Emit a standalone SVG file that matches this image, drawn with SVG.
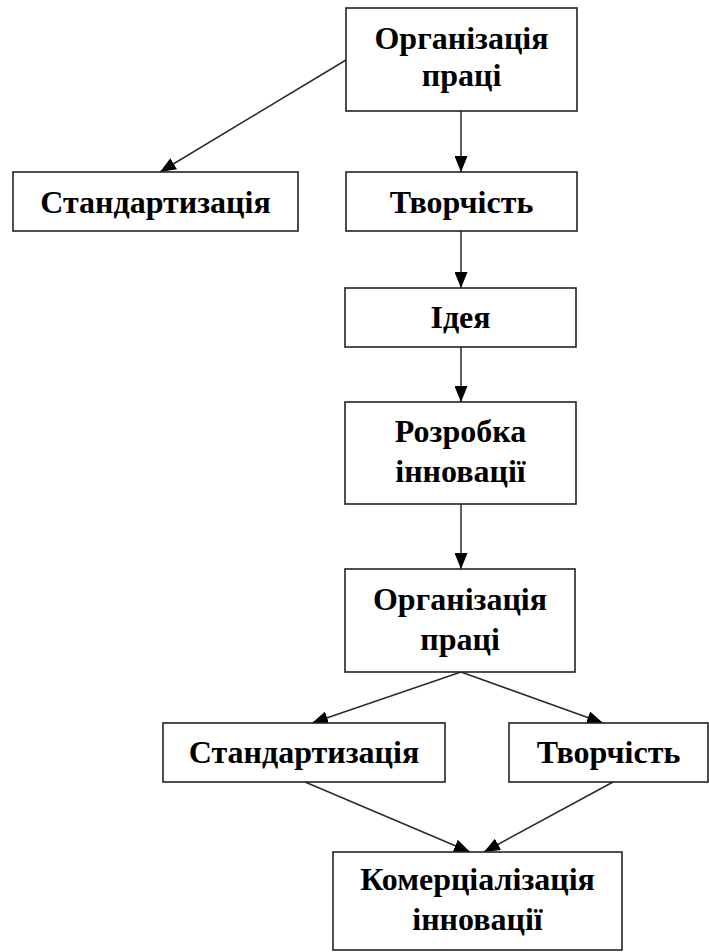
<svg xmlns="http://www.w3.org/2000/svg" width="709" height="952" viewBox="0 0 709 952">
<defs>
<style>
.box{fill:#fff;stroke:#222;stroke-width:1.6}
.t{font-family:"Liberation Serif","Times New Roman",serif;font-weight:bold;font-size:32px;fill:#000;text-anchor:middle}
.c{stroke:#2a2a2a;stroke-width:1.5;fill:none;marker-end:url(#ah)}
</style>
<marker id="ah" viewBox="0 0 16 13" refX="16" refY="6.5" markerWidth="16" markerHeight="13" markerUnits="userSpaceOnUse" orient="auto">
<path d="M0,0 L16,6.5 L0,13 Z" fill="#000"/>
</marker>
</defs>
<rect width="709" height="952" fill="#fff"/>
<g id="connectors">
<line class="c" x1="346" y1="60" x2="160" y2="172"/>
<line class="c" x1="461" y1="111" x2="461" y2="172"/>
<line class="c" x1="461" y1="231" x2="461" y2="288"/>
<line class="c" x1="461" y1="347" x2="461" y2="402"/>
<line class="c" x1="461" y1="504" x2="461" y2="569"/>
<line class="c" x1="461" y1="672" x2="312" y2="723"/>
<line class="c" x1="461" y1="672" x2="603" y2="723"/>
<line class="c" x1="305" y1="782" x2="470" y2="852"/>
<line class="c" x1="613" y1="782" x2="484" y2="852"/>
</g>
<g id="org1">
<rect class="box" x="346" y="8" width="231" height="103"/>
<text class="t" x="461.5" y="49">Організація</text>
<text class="t" x="461.5" y="86">праці</text>
</g>
<g id="std1">
<rect class="box" x="13" y="172" width="285" height="59"/>
<text class="t" x="155.5" y="213">Стандартизація</text>
</g>
<g id="tvor1">
<rect class="box" x="346" y="172" width="231" height="59"/>
<text class="t" x="461.5" y="213">Творчість</text>
</g>
<g id="ideia">
<rect class="box" x="345" y="288" width="231" height="59"/>
<text class="t" x="460.5" y="328">Ідея</text>
</g>
<g id="rozrobka">
<rect class="box" x="345" y="402" width="231" height="102"/>
<text class="t" x="460.5" y="442">Розробка</text>
<text class="t" x="460.5" y="482">інновації</text>
</g>
<g id="org2">
<rect class="box" x="345" y="569" width="230" height="103"/>
<text class="t" x="460" y="610">Організація</text>
<text class="t" x="460" y="650">праці</text>
</g>
<g id="std2">
<rect class="box" x="163" y="723" width="282" height="59"/>
<text class="t" x="304" y="763">Стандартизація</text>
</g>
<g id="tvor2">
<rect class="box" x="509" y="723" width="199" height="59"/>
<text class="t" x="608.5" y="763">Творчість</text>
</g>
<g id="komerc">
<rect class="box" x="333" y="852" width="289" height="98"/>
<text class="t" x="477.5" y="890">Комерціалізація</text>
<text class="t" x="477.5" y="930">інновації</text>
</g>
</svg>
